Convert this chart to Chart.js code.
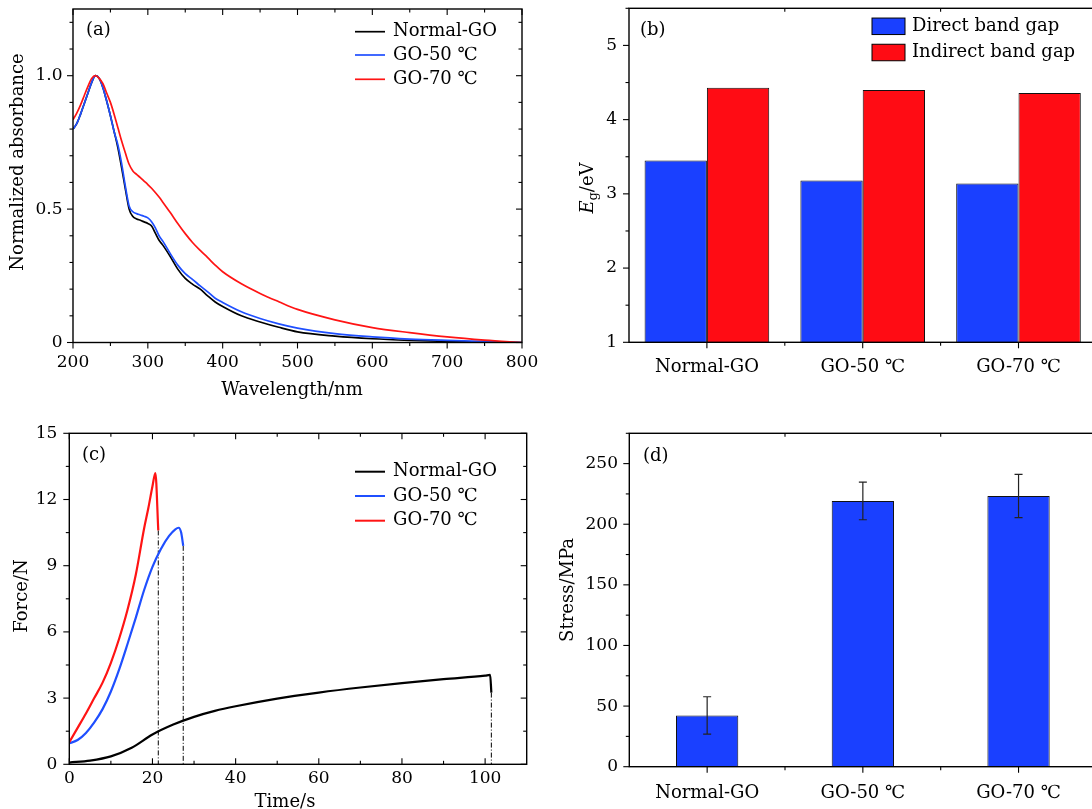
<!DOCTYPE html>
<html><head><meta charset="utf-8">
<script src="https://cdn.jsdelivr.net/npm/chart.js@4.4.0/dist/chart.umd.min.js"></script>
<style>
html,body{margin:0;padding:0;background:#fff;overflow:hidden;width:1092px;height:809px;position:relative}
canvas{position:absolute}
</style></head><body>
<canvas id="ca" style="left:0;top:0" width="546" height="400"></canvas>
<canvas id="cb" style="left:546px;top:0" width="560" height="400"></canvas>
<canvas id="cc" style="left:0;top:400px" width="546" height="409"></canvas>
<canvas id="cd" style="left:546px;top:400px" width="560" height="409"></canvas>
<script>
// ---------- DATA ----------
const seriesNames = ['Normal-GO', 'GO-50 \u2103', 'GO-70 \u2103'];
const seriesColors = ['#000000', '#1f4fff', '#ff1414'];

// (a) UV-vis
const wavelength = [200,205,210,215,220,225,230,235,240,245,250,255,260,265,270,275,280,285,290,295,300,305,310,315,320,330,340,350,360,370,380,390,400,425,450,475,500,550,600,650,700,750,800];
const absNormal = [0.80,0.82,0.855,0.895,0.935,0.975,1.0,0.99,0.955,0.905,0.85,0.79,0.73,0.655,0.575,0.50,0.472,0.463,0.458,0.452,0.446,0.437,0.41,0.383,0.365,0.322,0.275,0.24,0.218,0.20,0.175,0.152,0.135,0.10,0.077,0.057,0.04,0.024,0.014,0.008,0.004,0.002,0.0];
const abs50 = [0.80,0.82,0.855,0.895,0.935,0.975,1.0,0.99,0.955,0.905,0.85,0.79,0.74,0.67,0.585,0.512,0.49,0.483,0.478,0.473,0.467,0.453,0.43,0.40,0.38,0.333,0.29,0.258,0.236,0.212,0.19,0.166,0.15,0.115,0.09,0.07,0.054,0.033,0.021,0.013,0.008,0.004,0.0];
const abs70 = [0.835,0.86,0.89,0.925,0.96,0.99,1.0,0.99,0.97,0.935,0.90,0.855,0.805,0.755,0.71,0.668,0.643,0.63,0.618,0.605,0.592,0.578,0.562,0.545,0.526,0.487,0.446,0.408,0.374,0.345,0.318,0.29,0.265,0.22,0.184,0.153,0.124,0.085,0.056,0.037,0.021,0.009,0.0];
const wlTicks = [200,300,400,500,600,700,800];
const absTicks = [0, 0.5, 1.0];

// (b) band gaps
const categories = ['Normal-GO', 'GO-50 \u2103', 'GO-70 \u2103'];
const directGap = [3.45, 3.18, 3.14];
const indirectGap = [4.43, 4.40, 4.36];
const gapTicks = [1, 2, 3, 4, 5];

// (c) force vs time
const tNormal = [0,5,10,15,20,25,30,35,40,50,60,70,80,90,100,101.2,101.5];
const fNormal = [0.08,0.17,0.36,0.75,1.35,1.8,2.15,2.42,2.63,2.98,3.25,3.48,3.68,3.86,4.02,4.05,3.25];
const t50 = [0,2,4,6,8,10,12,14,16,18,20,22,24,25.5,26.3,26.9,27.4];
const f50 = [0.95,1.1,1.42,1.9,2.5,3.3,4.3,5.45,6.65,7.9,8.95,9.75,10.35,10.65,10.72,10.5,9.9];
const t70 = [0,2,4,6,8,10,12,14,16,18,19,20,20.7,21.4];
const f70 = [1.0,1.65,2.3,3.0,3.7,4.6,5.7,7.0,8.6,10.7,11.6,12.6,13.2,10.6];
const timeTicks = [0,20,40,60,80,100];
const forceTicks = [0,3,6,9,12,15];

// (d) stress
const stressMean = [42.3, 219.2, 223.3];
const stressErr = [15.4, 15.5, 17.8];
const stressTicks = [0,50,100,150,200,250];

// texts
const txtA = {label:'(a)', x:'Wavelength/nm', y:'Normalized absorbance'};
const txtB = {label:'(b)', legend:['Direct band gap','Indirect band gap']};
const txtC = {label:'(c)', x:'Time/s', y:'Force/N'};
const txtD = {label:'(d)', y:'Stress/MPa'};

// ---------- SETUP ----------
const FAM = "'DejaVu Serif', 'Liberation Serif', serif";
const FS = 17;   // numeric tick labels
const FT = 18;   // words
Chart.defaults.font.family = FAM;
Chart.defaults.font.size = FS;
Chart.defaults.color = '#000';
Chart.defaults.animation = false;

function rng(a, b, s){ const r=[]; for(let v=a; v<=b+1e-9; v+=s) r.push(+v.toFixed(6)); return r; }
function fixTicks(list){ return s => { s.ticks = list.map(v => ({value: v})); }; }
function pts(xs, ys){ return xs.map((x,i)=>({x:x, y:ys[i]})); }

function makeDecor(o){
  return { id:'decor', afterDraw(chart){
    const ctx = chart.ctx, a = chart.chartArea, xs = chart.scales.x, ys = chart.scales.y;
    ctx.save();
    ctx.strokeStyle = '#000'; ctx.fillStyle = '#000'; ctx.setLineDash([]);
    ctx.lineWidth = 1.4;
    ctx.strokeRect(a.left, a.top, a.right - a.left, a.bottom - a.top);
    ctx.lineWidth = 1.1;
    const seg=(x1,y1,x2,y2)=>{ctx.beginPath();ctx.moveTo(x1,y1);ctx.lineTo(x2,y2);ctx.stroke();};
    const XT=(vals,len,db,dt)=>vals.forEach(v=>{const p=xs.getPixelForValue(v); if(db) seg(p,a.bottom,p,a.bottom+db*len); if(dt) seg(p,a.top,p,a.top+dt*len);});
    const YT=(vals,len,dl,dr)=>vals.forEach(v=>{const p=ys.getPixelForValue(v); if(dl) seg(a.left,p,a.left+dl*len,p); if(dr) seg(a.right,p,a.right+dr*len,p);});
    XT(o.xMajor, 6, o.xb, o.xtMajor ? o.xt : 0);
    XT(o.xMinor, 3.5, o.xb, o.xt);
    YT(o.yMajor, 6, o.yl, o.yr);
    YT(o.yMinor, 3.5, o.yl, o.yr);
    ctx.font = FT + 'px ' + FAM;
    ctx.textBaseline = 'middle'; ctx.textAlign = 'left';
    ctx.fillText(o.panel[0], o.panel[1], o.panel[2]);
    if (o.lineLegend){
      const L=o.lineLegend;
      seriesNames.forEach((n,i)=>{
        const yy=L.y[i];
        ctx.strokeStyle=seriesColors[i]; ctx.lineWidth=L.w;
        seg(L.x1,yy,L.x2,yy);
        ctx.fillStyle='#000'; ctx.fillText(n, L.tx, yy);
      });
    }
    if (o.boxLegend){
      const B=o.boxLegend;
      B.labels.forEach((n,i)=>{
        const yy=B.y[i];
        ctx.fillStyle=B.colors[i]; ctx.fillRect(B.x, yy-B.h/2, B.w, B.h);
        ctx.strokeStyle='#000'; ctx.lineWidth=1; ctx.strokeRect(B.x, yy-B.h/2, B.w, B.h);
        ctx.fillStyle='#000'; ctx.fillText(n, B.tx, yy);
      });
    }
    ctx.fillStyle='#000'; ctx.textAlign='center';
    if (o.xTitle) ctx.fillText(o.xTitle[0], o.xTitle[1], o.xTitle[2]);
    if (o.yTitle){
      ctx.save(); ctx.translate(o.yTitle[1], o.yTitle[2]); ctx.rotate(-Math.PI/2);
      ctx.fillText(o.yTitle[0], 0, 0); ctx.restore();
    }
    if (o.egTitle){
      ctx.save(); ctx.translate(o.egTitle[0], o.egTitle[1]); ctx.rotate(-Math.PI/2);
      ctx.textAlign='left'; ctx.textBaseline='alphabetic';
      const fE = 'italic ' + FT + 'px ' + FAM, fg = '13px ' + FAM, fn = FT + 'px ' + FAM;
      ctx.font=fE; const wE=ctx.measureText('E').width;
      ctx.font=fg; const wg=ctx.measureText('g').width;
      ctx.font=fn; const wr=ctx.measureText('/eV').width;
      let x0 = -(wE+wg+wr)/2; const by = 6;
      ctx.font=fE; ctx.fillText('E', x0, by); x0+=wE;
      ctx.font=fg; ctx.fillText('g', x0, by+4); x0+=wg;
      ctx.font=fn; ctx.fillText('/eV', x0, by);
      ctx.restore();
    }
    ctx.restore();
  }};
}

const errorBars = { id:'errbars', afterDatasetsDraw(chart){
  const ctx=chart.ctx, xs=chart.scales.x, ys=chart.scales.y;
  ctx.save(); ctx.strokeStyle='#222'; ctx.lineWidth=1.2;
  stressMean.forEach((m,i)=>{
    const px=xs.getPixelForValue(i), t=ys.getPixelForValue(m+stressErr[i]), b=ys.getPixelForValue(m-stressErr[i]);
    ctx.beginPath(); ctx.moveTo(px,t); ctx.lineTo(px,b);
    ctx.moveTo(px-4,t); ctx.lineTo(px+4,t); ctx.moveTo(px-4,b); ctx.lineTo(px+4,b); ctx.stroke();
  });
  ctx.restore();
}};

function axisX(type, extra, height, pad, fsize){
  return Object.assign({type:type, grid:{display:false, drawTicks:false}, border:{display:false},
    ticks:{padding:pad, maxRotation:0, autoSkip:false, font:{family:FAM,size:fsize||FS}, color:'#000'},
    afterFit:s=>{s.height=height; s.paddingLeft=0; s.paddingRight=0;}}, extra);
}
function axisY(extra, width, pad, fmt){
  return Object.assign({type:'linear', grid:{display:false, drawTicks:false}, border:{display:false},
    ticks:{padding:pad, includeBounds:false, font:{family:FAM,size:FS}, color:'#000', callback: fmt || (v=>String(v))},
    afterFit:s=>{s.width=width; s.paddingTop=0; s.paddingBottom=0;}}, extra);
}
const baseOpts = (pad)=>({responsive:false, animation:false, devicePixelRatio:1, layout:{padding:pad},
  plugins:{legend:{display:false}, tooltip:{enabled:false}}, events:[]});

// ---------- (a) ----------
(function(){
  const sets=[abs70, abs50, absNormal], idx=[2,1,0];
  new Chart(document.getElementById('ca'), {
    type:'line',
    data:{datasets: sets.map((s,k)=>({label:seriesNames[idx[k]], data:pts(wavelength,s), borderColor:seriesColors[idx[k]],
      borderWidth:1.7, pointRadius:0, cubicInterpolationMode:'monotone', fill:false}))},
    options:Object.assign(baseOpts({left:0,top:9,right:24,bottom:0}), {
      scales:{
        x: axisX('linear', {min:200, max:800, afterBuildTicks:fixTicks(wlTicks)}, 57.5, 10),
        y: axisY({min:0, max:1.25, afterBuildTicks:fixTicks(absTicks)}, 73, 10.5, v=> v===0 ? '0' : v.toFixed(1))
      }}),
    plugins:[makeDecor({xMajor:wlTicks, xMinor:rng(250,750,100), xb:1, xt:1, xtMajor:true,
      yMajor:absTicks, yMinor:[0.1,0.2,0.3,0.4,0.6,0.7,0.8,0.9,1.1,1.2], yl:-1, yr:-1,
      panel:[txtA.label, 86, 30],
      lineLegend:{x1:355, x2:385, tx:393, y:[31.7,55,79.3], w:1.7},
      xTitle:[txtA.x, 292, 390], yTitle:[txtA.y, 18, 162]})]
  });
})();

// ---------- (b) ----------
(function(){
  const cols=['#1a40ff','#ff0c14'];
  new Chart(document.getElementById('cb'), {
    type:'bar',
    data:{labels:categories, datasets:[
      {label:txtB.legend[0], data:directGap, backgroundColor:cols[0], borderColor:'#111', borderWidth:1, categoryPercentage:0.8, barPercentage:1.0},
      {label:txtB.legend[1], data:indirectGap, backgroundColor:cols[1], borderColor:'#111', borderWidth:1, categoryPercentage:0.8, barPercentage:1.0}]},
    options:Object.assign(baseOpts({left:0,top:8.3,right:9.6,bottom:0}), {
      scales:{
        x: axisX('category', {offset:true}, 400-342.3, 14, FT),
        y: axisY({min:1, max:5.5, afterBuildTicks:fixTicks(gapTicks)}, 83, 12)
      }}),
    plugins:[makeDecor({xMajor:[0,1,2], xMinor:[0.5,1.5], xb:1, xt:1, xtMajor:false,
      yMajor:gapTicks, yMinor:[1.5,2.5,3.5,4.5,5.5], yl:-1, yr:0,
      panel:[txtB.label, 94, 30.7],
      boxLegend:{labels:txtB.legend, colors:cols, x:326, w:33, h:16.5, tx:366, y:[26.3,52.5]},
      egTitle:[41, 188]})]
  });
})();

// ---------- (c) ----------
(function(){
  const T=[t70,t50,tNormal], F=[f70,f50,fNormal], idx=[2,1,0];
  const ds = T.map((t,k)=>({label:seriesNames[idx[k]], data:pts(t,F[k]), borderColor:seriesColors[idx[k]], borderWidth:2.2,
    pointRadius:0, cubicInterpolationMode:'monotone', fill:false}));
  T.forEach((t,k)=>{ const tl=t[t.length-1], fl=F[k][F[k].length-1];
    ds.push({label:'drop', data:[{x:tl,y:fl},{x:tl,y:0}], borderColor:'#000', borderWidth:1, borderDash:[5,2,1,2], pointRadius:0, fill:false}); });
  new Chart(document.getElementById('cc'), {
    type:'line',
    data:{datasets:ds},
    options:Object.assign(baseOpts({left:0,top:33.3,right:19.3,bottom:0}), {
      scales:{
        x: axisX('linear', {min:0, max:110, afterBuildTicks:fixTicks(timeTicks)}, 409-364.3, 4),
        y: axisY({min:0, max:15, afterBuildTicks:fixTicks(forceTicks)}, 69.3, 12)
      }}),
    plugins:[makeDecor({xMajor:timeTicks, xMinor:[10,30,50,70,90], xb:-1, xt:1, xtMajor:true,
      yMajor:forceTicks, yMinor:[1.5,4.5,7.5,10.5,13.5], yl:-1, yr:-1,
      panel:[txtC.label, 82, 55],
      lineLegend:{x1:355, x2:385, tx:393, y:[71.7,96,120.7], w:2},
      xTitle:[txtC.x, 285, 402], yTitle:[txtC.y, 22.6, 196]})]
  });
})();

// ---------- (d) ----------
(function(){
  new Chart(document.getElementById('cd'), {
    type:'bar',
    data:{labels:categories, datasets:[
      {label:txtD.y, data:stressMean, backgroundColor:'#1a40ff', borderColor:'#111', borderWidth:1, categoryPercentage:0.8, barPercentage:0.5}]},
    options:Object.assign(baseOpts({left:0,top:33.3,right:9.6,bottom:0}), {
      scales:{
        x: axisX('category', {offset:true}, 409-366.7, 16, FT),
        y: axisY({min:0, max:275, afterBuildTicks:fixTicks(stressTicks)}, 83.3, 11.3)
      }}),
    plugins:[errorBars, makeDecor({xMajor:[0,1,2], xMinor:[0.5,1.5], xb:1, xt:1, xtMajor:false,
      yMajor:stressTicks, yMinor:[25,75,125,175,225,275], yl:-1, yr:0,
      panel:[txtD.label, 97, 56],
      yTitle:[txtD.y, 22.6, 190]})]
  });
})();
</script>
</body></html>
